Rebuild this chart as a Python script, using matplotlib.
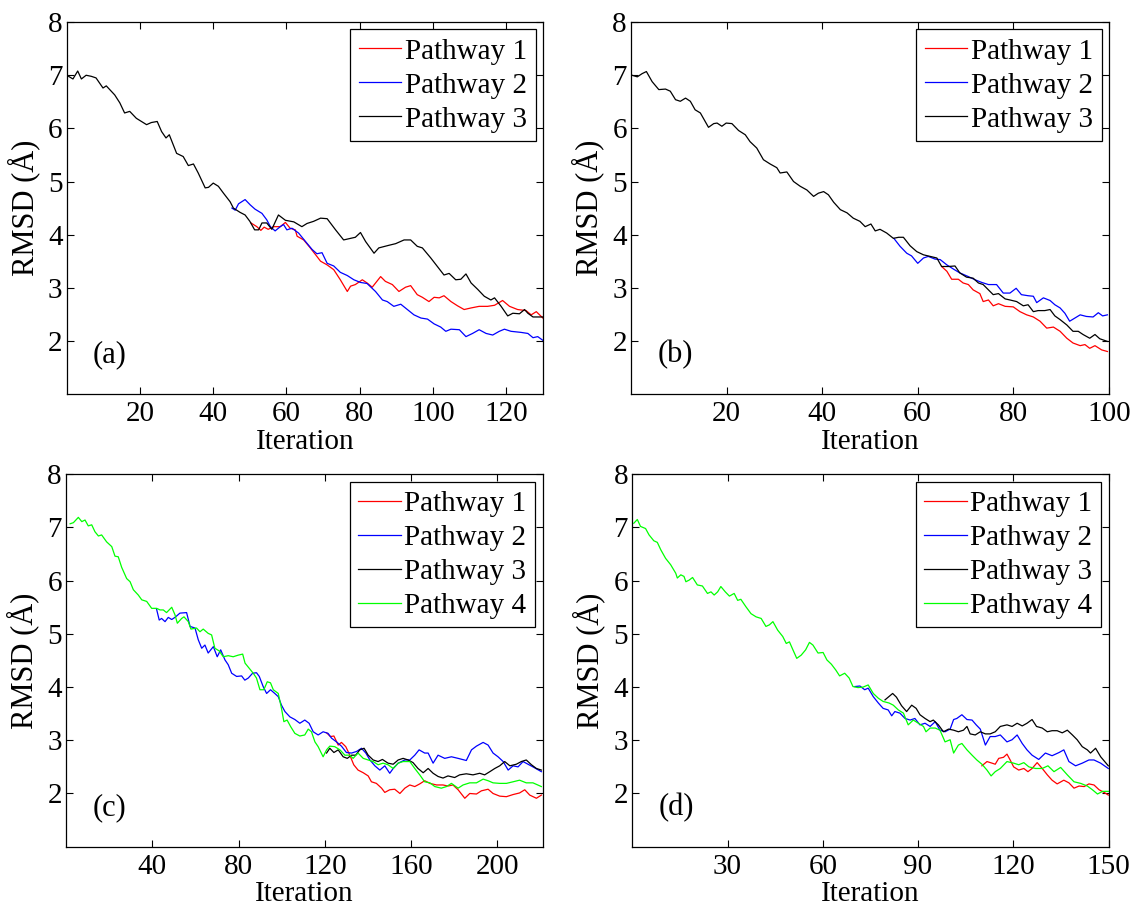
import matplotlib
matplotlib.use('Agg')
import matplotlib.pyplot as plt
import numpy as np

plt.rcParams['font.family'] = 'Liberation Serif'
plt.rcParams['font.size'] = 21

# -----------------------------
# Data: (iteration, RMSD) pairs
# -----------------------------
# (a)
a_path1 = [(50.3, 4.22), (51.9, 4.15), (53, 4.08), (53.9, 4.14), (55, 4.10), (56.5, 4.15), (58.3, 4.15),
           (59.7, 4.23), (61, 4.12), (62.4, 4.09), (62.9, 3.97), (64.7, 3.90), (66.5, 3.75), (68.3, 3.59),
           (69.3, 3.50), (71.1, 3.43), (72.9, 3.34), (74.7, 3.15), (76.6, 2.93), (77.5, 3.03), (78.8, 3.06),
           (80.7, 3.15), (82, 3.09), (83.4, 3.01), (85.7, 3.21), (87, 3.12), (88.9, 3.06), (90.7, 2.93),
           (92.5, 3.01), (93.9, 3.04), (95.7, 2.87), (97.1, 2.82), (98.9, 2.74), (100.3, 2.82), (101.7, 2.81),
           (103, 2.85), (104.9, 2.74), (106.7, 2.66), (108.5, 2.59), (110.4, 2.62), (112.6, 2.65), (114.9, 2.65),
           (116.8, 2.67), (119, 2.76), (120.9, 2.65), (123.1, 2.59), (125.4, 2.57), (126.8, 2.49), (128.2, 2.55),
           (130, 2.43)]
a_path2 = [(45.1, 4.50), (46, 4.46), (46.9, 4.58), (48.7, 4.66), (50.1, 4.56), (51.4, 4.48), (53.3, 4.40),
           (54.6, 4.28), (55.6, 4.15), (56.9, 4.07), (58.3, 4.15), (59.2, 4.19), (60.1, 4.09), (61.5, 4.12),
           (63.3, 4.03), (65.2, 3.87), (67, 3.72), (68.3, 3.64), (69.7, 3.66), (71.1, 3.46), (72.9, 3.41),
           (74.7, 3.29), (76.6, 3.23), (78.4, 3.15), (80.2, 3.10), (82, 3.08), (84.3, 2.93), (86.2, 2.77),
           (87.5, 2.74), (89.3, 2.65), (91.2, 2.69), (93, 2.59), (94.8, 2.49), (96.7, 2.43), (98.5, 2.41),
           (100.3, 2.32), (102.1, 2.26), (103.5, 2.18), (104.9, 2.22), (107.2, 2.21), (109, 2.08), (110.8, 2.14),
           (112.6, 2.21), (114.5, 2.14), (116.3, 2.11), (118.1, 2.18), (119.5, 2.22), (121.3, 2.18), (124, 2.16),
           (125.9, 2.14), (127.3, 2.06), (128.6, 2.08), (130, 2.01)]
a_path3 = [(0, 7.0), (1.7, 6.93), (3, 7.08), (4, 6.93), (5.3, 7.0), (6.7, 6.98), (8, 6.95), (9.9, 6.76),
           (10.8, 6.80), (13.1, 6.63), (14.5, 6.48), (15.8, 6.29), (17.2, 6.32), (19, 6.19), (21.8, 6.07),
           (23.1, 6.11), (24.7, 6.13), (25.9, 5.94), (27.1, 5.82), (28, 5.88), (30, 5.53), (31.8, 5.47),
           (33.2, 5.30), (34.6, 5.33), (35.9, 5.16), (37.8, 4.88), (38.7, 4.89), (40, 4.97), (41.4, 4.91),
           (42.8, 4.78), (44.6, 4.62), (45.5, 4.50), (47.3, 4.42), (48.7, 4.37), (50, 4.25), (51.3, 4.09),
           (52.4, 4.09), (53.3, 4.22), (54.6, 4.22), (56, 4.10), (57.8, 4.37), (59.7, 4.27), (62, 4.24),
           (64.2, 4.15), (65.6, 4.21), (67.4, 4.25), (69.3, 4.31), (71.1, 4.30), (73.4, 4.09), (75.6, 3.90),
           (77.5, 3.93), (78.8, 3.95), (80.2, 4.04), (81.6, 3.87), (83.9, 3.65), (85.2, 3.75), (88, 3.80),
           (89.8, 3.83), (92.1, 3.90), (93.9, 3.90), (95.7, 3.78), (97.1, 3.75), (99.4, 3.56), (101.2, 3.40),
           (103, 3.24), (104.4, 3.27), (106.2, 3.15), (107.6, 3.16), (109, 3.26), (110.4, 3.09), (112.2, 2.97),
           (114, 2.84), (115.8, 2.77), (116.8, 2.81), (118.6, 2.65), (120.4, 2.47), (121.8, 2.52), (123.6, 2.51),
           (125, 2.59), (125.9, 2.52), (127.3, 2.45), (130, 2.45)]

# (b)
b_path1 = [(65, 3.40), (66.1, 3.31), (67.1, 3.16), (68.5, 3.16), (69.5, 3.09), (70.6, 3.06), (71.6, 2.96),
           (73, 2.89), (73.7, 2.74), (74.8, 2.77), (75.8, 2.66), (76.9, 2.70), (78.3, 2.65), (80, 2.64),
           (81.4, 2.55), (82.8, 2.49), (84.2, 2.45), (85.6, 2.37), (87, 2.24), (88.4, 2.26), (89.8, 2.18),
           (91.2, 2.05), (92.5, 1.96), (94, 1.91), (95, 1.93), (96, 1.86), (97.1, 1.91), (98.5, 1.83),
           (99.7, 1.80)]
b_path2 = [(55, 3.93), (56.3, 3.78), (57.7, 3.65), (58.7, 3.60), (60, 3.46), (61.2, 3.56), (62.2, 3.59),
           (63.6, 3.54), (64.7, 3.53), (66.1, 3.43), (67.5, 3.35), (68.8, 3.28), (70.6, 3.21), (72, 3.15),
           (73.4, 3.10), (74.8, 3.06), (76.5, 3.06), (77.9, 2.90), (79.3, 2.90), (80.6, 2.99), (81.7, 2.87),
           (83.1, 2.85), (84.2, 2.84), (84.9, 2.72), (86.3, 2.81), (87.7, 2.76), (88.7, 2.68), (89.8, 2.62),
           (90.8, 2.52), (91.8, 2.37), (92.9, 2.43), (94, 2.49), (95.3, 2.46), (96.7, 2.45), (97.8, 2.53),
           (98.7, 2.47), (99.7, 2.49)]
b_path3 = [(0.2, 7.0), (1.3, 6.97), (2.3, 7.03), (3.2, 7.07), (4.4, 6.88), (5.8, 6.73), (7.2, 6.74),
           (8.2, 6.70), (9.3, 6.54), (10.3, 6.51), (11.4, 6.57), (12.4, 6.51), (13.4, 6.35), (14.5, 6.29),
           (16.2, 6.02), (17.3, 6.09), (18, 6.10), (19, 6.04), (19.9, 6.10), (21.1, 6.09), (22.5, 5.96),
           (23.9, 5.88), (24.9, 5.75), (26.3, 5.63), (27.7, 5.41), (29.1, 5.33), (30.5, 5.26), (31.2, 5.16),
           (32.6, 5.18), (34, 5.00), (35.4, 4.91), (36.8, 4.84), (38.2, 4.72), (39.2, 4.78), (40.3, 4.81),
           (41.3, 4.75), (42.4, 4.61), (43.8, 4.47), (45.2, 4.41), (46.5, 4.31), (47.9, 4.25), (49, 4.15),
           (50.2, 4.20), (51.1, 4.07), (52.1, 4.10), (53.5, 4.03), (54.9, 3.93), (56, 3.95), (57, 3.95),
           (58.4, 3.79), (59.8, 3.68), (61.2, 3.62), (62.6, 3.59), (64, 3.56), (65, 3.40), (66.4, 3.40),
           (67.8, 3.41), (68.8, 3.28), (70.2, 3.20), (71.6, 3.18), (72.7, 3.09), (73.7, 3.06), (74.8, 2.96),
           (75.8, 2.87), (76.9, 2.89), (78.3, 2.79), (79.3, 2.77), (80.7, 2.74), (82.1, 2.66), (83.1, 2.68),
           (84.2, 2.55), (85.2, 2.57), (86.6, 2.57), (87.7, 2.59), (88.7, 2.47), (89.8, 2.40), (91.2, 2.30),
           (92.5, 2.18), (93.6, 2.18), (94.6, 2.12), (96, 2.05), (97.1, 2.12), (98.1, 2.04), (99.7, 1.99)]

# (c)
c_path1 = [(120.8, 3.14), (122.6, 3.07), (124.2, 3.08), (126.2, 2.91), (127.7, 2.96), (129.7, 2.88),
           (131.6, 2.72), (133.4, 2.54), (135.4, 2.44), (137.8, 2.39), (140.1, 2.33), (141.6, 2.22),
           (143.9, 2.19), (146.3, 2.10), (147.8, 2.02), (150.1, 2.07), (152.4, 2.08), (154.8, 2.00),
           (157.1, 2.10), (159.4, 2.16), (161.7, 2.13), (164, 2.18), (166.3, 2.24), (168.7, 2.19),
           (171.8, 2.16), (174.8, 2.16), (177.1, 2.14), (179.4, 2.16), (181.8, 2.07), (184.9, 1.91),
           (187.2, 2.00), (190.3, 1.99), (192.6, 2.05), (195.7, 2.08), (198, 2.00), (201.1, 1.95),
           (204.2, 1.94), (207.3, 1.98), (210.3, 2.01), (212.7, 2.07), (215, 1.97), (218.1, 1.91),
           (220.4, 1.97)]
c_path2 = [(42, 5.46), (43.2, 5.26), (44.3, 5.29), (45.9, 5.23), (47.4, 5.31), (49, 5.27), (50.5, 5.31),
           (52.8, 5.39), (55.9, 5.40), (57.5, 5.14), (59.8, 5.11), (61.3, 4.89), (62.9, 4.73), (64.4, 4.79),
           (65.9, 4.64), (68.3, 4.76), (70.1, 4.57), (71.7, 4.70), (73.7, 4.51), (75.2, 4.42), (76.8, 4.26),
           (79.1, 4.20), (81.4, 4.21), (82.9, 4.13), (84.5, 4.17), (86.5, 4.26), (88.3, 4.27), (89.6, 4.20),
           (91.4, 4.01), (93, 3.88), (94.8, 3.95), (96.8, 3.88), (98.4, 3.82), (99.9, 3.66), (101.5, 3.54),
           (103.8, 3.44), (106.1, 3.39), (108.4, 3.32), (110.7, 3.38), (112.7, 3.32), (114.6, 3.16),
           (116.9, 3.10), (119.2, 3.16), (121.5, 3.13), (123.1, 3.04), (125.4, 2.97), (127.7, 2.89),
           (130, 2.77), (132.4, 2.76), (134.7, 2.79), (137, 2.85), (139, 2.76), (140.9, 2.63), (143.2, 2.52),
           (145.5, 2.44), (147.8, 2.52), (150.1, 2.38), (151.7, 2.47), (154, 2.57), (157.1, 2.63),
           (159.4, 2.63), (161.7, 2.72), (163.7, 2.82), (166.3, 2.76), (167.9, 2.76), (170.2, 2.57),
           (172.5, 2.72), (175.6, 2.66), (178.7, 2.69), (181.8, 2.66), (185.6, 2.62), (188, 2.82),
           (190.3, 2.89), (193.4, 2.96), (195.7, 2.91), (198, 2.76), (200.3, 2.69), (202.7, 2.60),
           (205, 2.44), (207.3, 2.52), (209.6, 2.50), (211.9, 2.60), (214.2, 2.55), (216.5, 2.50),
           (220.4, 2.41)]
c_path3 = [(120.8, 2.76), (122.3, 2.85), (124.2, 2.77), (126.2, 2.82), (128.5, 2.69), (130.4, 2.66),
           (132.4, 2.72), (134.3, 2.72), (136.2, 2.82), (138.2, 2.85), (140.1, 2.72), (142.4, 2.63),
           (144.7, 2.60), (146.7, 2.64), (149.3, 2.57), (151.7, 2.55), (154, 2.63), (156.3, 2.66),
           (158.6, 2.63), (160.9, 2.58), (163.2, 2.47), (165.6, 2.39), (167.9, 2.47), (170.2, 2.38),
           (172.5, 2.32), (174.8, 2.29), (177.1, 2.33), (180.2, 2.30), (182.5, 2.35), (185.6, 2.37),
           (188.7, 2.35), (191.8, 2.38), (194.1, 2.35), (196.5, 2.41), (198.8, 2.47), (201.1, 2.52),
           (203.4, 2.60), (205.8, 2.52), (208.8, 2.55), (211.1, 2.60), (213.4, 2.63), (215.8, 2.54),
           (218.1, 2.47), (220.4, 2.44)]
c_path4 = [(1.9, 7.07), (3.4, 7.09), (5.7, 7.19), (7.3, 7.11), (8.8, 7.14), (10.3, 7.03), (11.9, 7.05),
           (13.4, 6.92), (15, 6.84), (16.5, 6.86), (18.8, 6.73), (21.2, 6.64), (22.7, 6.46), (24.2, 6.45),
           (25.8, 6.25), (28.1, 6.04), (29.7, 5.98), (31.2, 5.83), (33.5, 5.73), (35.1, 5.64), (37.4, 5.61),
           (39.7, 5.48), (42, 5.48), (43.6, 5.45), (45.1, 5.45), (46.6, 5.40), (49, 5.50), (50.5, 5.36),
           (51.6, 5.20), (53.6, 5.29), (54.7, 5.32), (56.7, 5.23), (57.9, 5.09), (60.5, 5.11), (62.1, 5.04),
           (63.6, 5.09), (65.9, 5.01), (67.5, 4.98), (69, 4.73), (71, 4.68), (72.9, 4.57), (75.2, 4.59),
           (77.5, 4.57), (79.8, 4.60), (81.9, 4.62), (83, 4.45), (85, 4.35), (86.8, 4.26), (88.3, 4.17),
           (89.9, 3.95), (91.7, 3.95), (93.3, 4.10), (94.8, 4.08), (96.1, 3.95), (98.4, 3.88), (99.9, 3.60),
           (101, 3.35), (102.5, 3.38), (104.1, 3.26), (106.1, 3.13), (108.4, 3.08), (110.7, 3.10),
           (112.3, 3.21), (113.8, 3.16), (115.4, 2.97), (116.9, 2.88), (119.2, 2.69), (120.8, 2.82),
           (122.3, 2.89), (124.6, 2.88), (127, 2.82), (129.3, 2.72), (131.6, 2.72), (133.1, 2.66),
           (135.4, 2.76), (137.8, 2.66), (140.1, 2.63), (142.4, 2.60), (144.7, 2.54), (147, 2.57),
           (149.3, 2.54), (151.7, 2.47), (154, 2.57), (156.3, 2.60), (159.4, 2.60), (161.7, 2.47),
           (164, 2.35), (166.3, 2.22), (168.7, 2.20), (171, 2.13), (174, 2.10), (176.4, 2.13), (178.7, 2.19),
           (181.8, 2.10), (184.1, 2.16), (187.2, 2.20), (190.3, 2.20), (193.4, 2.27), (195.7, 2.24),
           (198, 2.20), (201.1, 2.19), (204.2, 2.19), (207.3, 2.22), (210.3, 2.25), (213.4, 2.20),
           (216.5, 2.20), (220.4, 2.13)]

# (d)
d_path1 = [(110.1, 2.52), (111.7, 2.60), (113.3, 2.57), (114.3, 2.55), (115.4, 2.66), (116.9, 2.68),
           (118, 2.74), (119, 2.63), (120.1, 2.50), (121.7, 2.44), (123.3, 2.47), (124.6, 2.41),
           (125.9, 2.47), (127.5, 2.58), (129.1, 2.47), (130.7, 2.35), (132.2, 2.25), (133.8, 2.18),
           (135.9, 2.25), (137.5, 2.20), (139.1, 2.10), (140.7, 2.14), (142.3, 2.13), (143.8, 2.18),
           (145.4, 2.16), (147, 2.07), (148.6, 2.02), (149.9, 1.97)]
d_path2 = [(70.1, 4.01), (71.7, 4.02), (73.2, 3.95), (74.3, 3.98), (75.9, 3.82), (77.5, 3.70), (79, 3.60),
           (80.6, 3.57), (81.7, 3.46), (82.7, 3.54), (84.3, 3.51), (85.9, 3.41), (87.5, 3.38), (89, 3.41),
           (90.6, 3.29), (92.2, 3.32), (93.8, 3.26), (95.4, 3.35), (96.9, 3.19), (98.5, 3.16), (100.1, 3.21),
           (101.2, 3.39), (102.2, 3.41), (103.8, 3.48), (105.4, 3.39), (107, 3.38), (108.3, 3.29),
           (109.6, 3.21), (111.2, 2.91), (112.7, 3.07), (114.3, 3.07), (115.9, 3.10), (118, 2.97),
           (119.6, 3.01), (121.2, 3.10), (122.8, 2.94), (124.3, 2.82), (125.9, 2.72), (128, 2.64),
           (130.1, 2.76), (132.2, 2.71), (134.4, 2.77), (135.9, 2.82), (137.5, 2.60), (139.6, 2.52),
           (141.7, 2.57), (143.8, 2.63), (145.4, 2.63), (147.5, 2.57), (149.9, 2.47)]
d_path3 = [(79.6, 3.76), (80.6, 3.81), (82, 3.88), (83.2, 3.81), (84.8, 3.65), (86.4, 3.54), (88, 3.66),
           (89.4, 3.60), (90.6, 3.48), (92.2, 3.41), (93.8, 3.35), (94.8, 3.38), (96.4, 3.29), (98, 3.16),
           (99.6, 3.21), (101.2, 3.19), (102.7, 3.16), (104.3, 3.19), (105.4, 3.26), (106.4, 3.12),
           (108, 3.10), (109.6, 3.16), (111.2, 3.12), (112.7, 3.12), (114.3, 3.16), (115.9, 3.26),
           (118, 3.29), (119.6, 3.26), (121.2, 3.32), (122.8, 3.27), (124.3, 3.32), (125.9, 3.39),
           (127.3, 3.26), (129.1, 3.23), (130.7, 3.16), (132.2, 3.18), (133.8, 3.18), (135.4, 3.14),
           (137, 3.19), (138.6, 3.10), (140.1, 3.01), (141.7, 2.88), (143.3, 2.82), (144.3, 2.76),
           (145.9, 2.85), (147.5, 2.69), (149.9, 2.52)]
d_path4 = [(0.5, 7.08), (1.6, 7.15), (2.6, 7.02), (4.2, 6.98), (5.3, 6.86), (6.8, 6.75), (7.9, 6.72),
           (9, 6.58), (10.5, 6.42), (12.1, 6.30), (13.7, 6.14), (14.2, 6.05), (15.3, 6.11), (16.3, 6.08),
           (16.9, 5.98), (17.9, 6.01), (19, 6.06), (20.5, 5.92), (22.1, 5.90), (23.7, 5.76), (24.8, 5.79),
           (25.8, 5.73), (26.9, 5.79), (27.9, 5.89), (29.3, 5.79), (30.6, 5.71), (32.1, 5.76), (33.2, 5.63),
           (34.2, 5.65), (35.8, 5.51), (37.4, 5.38), (39, 5.32), (40.6, 5.29), (42.1, 5.14), (43.2, 5.17),
           (44.3, 5.23), (45.8, 5.07), (47.4, 4.95), (48.5, 4.82), (49.5, 4.85), (50.6, 4.70), (51.8, 4.54),
           (53.2, 4.60), (54.6, 4.70), (55.8, 4.84), (56.9, 4.79), (58.5, 4.64), (60.1, 4.65), (61.3, 4.51),
           (62.7, 4.43), (64.1, 4.32), (65.3, 4.21), (66.9, 4.26), (68.3, 4.17), (69.5, 4.01), (71.1, 3.99),
           (72.7, 4.00), (74.3, 4.04), (75.9, 3.88), (77.5, 3.79), (79, 3.73), (80.9, 3.70), (82.2, 3.66),
           (83.8, 3.57), (85.4, 3.51), (86.9, 3.29), (88.5, 3.38), (90.1, 3.32), (91.7, 3.26), (92.5, 3.16),
           (93.8, 3.23), (95.4, 3.23), (96.9, 3.19), (98.5, 2.97), (100.1, 3.01), (101.2, 2.76),
           (102.7, 2.91), (103.8, 2.94), (105.4, 2.82), (107, 2.72), (108.5, 2.63), (110.1, 2.55),
           (111.7, 2.44), (113, 2.33), (114.3, 2.41), (115.9, 2.47), (118, 2.60), (120.1, 2.57),
           (121.7, 2.54), (123.3, 2.58), (124.9, 2.50), (127, 2.47), (129.1, 2.47), (130.9, 2.52),
           (132.8, 2.41), (134.9, 2.49), (137, 2.35), (139.1, 2.22), (141.2, 2.19), (143.3, 2.14),
           (144.9, 2.07), (146.5, 1.99), (148.1, 2.04), (149.9, 2.04)]

panels = [
    ('(a)', [a_path1, a_path2, a_path3], 130, [20, 40, 60, 80, 100, 120]),
    ('(b)', [b_path1, b_path2, b_path3], 100, [20, 40, 60, 80, 100]),
    ('(c)', [c_path1, c_path2, c_path3, c_path4], 221, [40, 80, 120, 160, 200]),
    ('(d)', [d_path1, d_path2, d_path3, d_path4], 150, [30, 60, 90, 120, 150]),
]
colors = ['#ff0000', '#0000ff', '#000000', '#00ff00']
names = ['Pathway 1', 'Pathway 2', 'Pathway 3', 'Pathway 4']

# axes rectangles in figure fractions (left, bottom, width, height)
rects = [
    [0.059, 0.5656, 0.421, 0.410],
    [0.558, 0.5656, 0.4224, 0.410],
    [0.0584, 0.0665, 0.4214, 0.4106],
    [0.559, 0.0665, 0.4212, 0.4106],
]

fig = plt.figure(figsize=(11.31, 9.07), dpi=100)

for rect, (tag, series, xmax, xticks) in zip(rects, panels):
    ax = fig.add_axes(rect)
    for i, pts in enumerate(series):
        xy = np.array(pts)
        ax.plot(xy[:, 0], xy[:, 1], color=colors[i], linewidth=0.9, label=names[i])
    ax.set_xlim(0, xmax)
    ax.set_ylim(1, 8)
    ax.set_xticks(xticks)
    ax.set_yticks([2, 3, 4, 5, 6, 7, 8])
    ax.tick_params(direction='in', top=True, right=True, length=5, width=0.8, labelsize=21)
    ax.tick_params(axis='x', pad=5)
    ax.tick_params(axis='y', pad=3)
    for sp in ax.spines.values():
        sp.set_linewidth(0.9)
    ax.set_xlabel('Iteration', fontsize=21)
    ax.set_ylabel('RMSD (Å)', fontsize=22)
    ax.xaxis.set_label_coords(0.5, -0.093)
    ax.yaxis.set_label_coords(-0.056, 0.5)
    ax.text(0.055, 0.105, tag, transform=ax.transAxes, fontsize=22, ha='left', va='center')
    leg = ax.legend(loc='upper right', fontsize=21, frameon=True, fancybox=False, framealpha=1,
                    edgecolor='black', borderaxespad=0.25, handlelength=1.46, handletextpad=0.12,
                    labelspacing=0.26, borderpad=0.3)
    leg.get_frame().set_linewidth(0.9)

plt.savefig('out.png', dpi=100)
plt.close()
